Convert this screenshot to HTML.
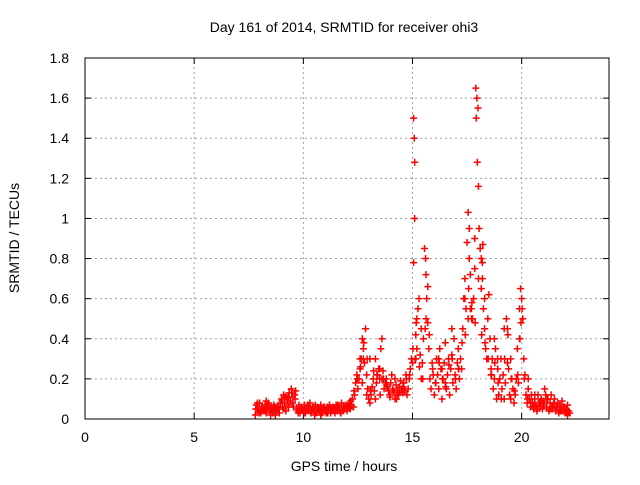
<!DOCTYPE html>
<html><head><meta charset="utf-8"><style>
body{margin:0;background:#fff;}
svg text{font-family:"Liberation Sans",sans-serif;font-size:14px;fill:#000;}
</style></head><body>
<svg id="chart" width="640" height="480">
<text x="344" y="32" text-anchor="middle">Day 161 of 2014, SRMTID for receiver ohi3</text>
<g id="grid"></g>
<g id="axes"></g>
<g id="points"></g>
<text x="344" y="471" text-anchor="middle">GPS time / hours</text>
<text transform="translate(19,238) rotate(-90)" text-anchor="middle">SRMTID / TECUs</text>
</svg>
<script>
const xTicks=[0,5,10,15,20];
const yTicks=[0,0.2,0.4,0.6,0.8,1,1.2,1.4,1.6,1.8];
const yTickLabels=["0","0.2","0.4","0.6","0.8","1","1.2","1.4","1.6","1.8"];
const times=[7.8,7.85,7.9,7.95,8.0,8.05,8.1,8.15,8.2,8.25,8.3,8.35,8.4,8.45,8.5,8.55,8.6,8.65,8.7,8.75,8.8,8.85,8.9,8.95,
9.0,9.05,9.1,9.15,9.2,9.25,9.3,9.35,9.4,9.45,9.5,9.55,9.6,9.65,9.7,9.75,9.8,9.85,9.9,9.95,
10.0,10.05,10.1,10.15,10.2,10.25,10.3,10.35,10.4,10.45,10.5,10.55,10.6,10.65,10.7,10.75,10.8,10.85,10.9,10.95,
11.0,11.05,11.1,11.15,11.2,11.25,11.3,11.35,11.4,11.45,11.5,11.55,11.6,11.65,11.7,11.75,11.8,11.85,11.9,11.95,
12.0,12.05,12.1,12.15,12.2,12.25,12.3,12.35,12.4,12.45,12.5,12.55,12.6,12.65,12.7,12.75,12.8,12.85,12.9,12.95,
13.0,13.05,13.1,13.15,13.2,13.25,13.3,13.35,13.4,13.45,13.5,13.55,13.6,13.65,13.7,13.75,13.8,13.85,13.9,13.95,
14.0,14.05,14.1,14.15,14.2,14.25,14.3,14.35,14.4,14.45,14.5,14.55,14.6,14.65,14.7,14.75,14.8,14.85,14.9,14.95,
15.0,15.05,15.05,15.08,15.1,15.1,15.12,15.15,15.2,15.25,15.3,15.35,15.4,15.45,15.5,15.55,15.6,15.62,15.65,15.7,15.75,15.8,15.85,15.9,15.95,
16.0,16.05,16.1,16.15,16.2,16.25,16.3,16.35,16.4,16.45,16.5,16.55,16.6,16.65,16.7,16.75,16.8,16.85,16.9,16.95,
17.0,17.05,17.1,17.15,17.2,17.25,17.3,17.35,17.4,17.45,17.5,17.55,17.6,17.65,17.7,17.75,17.8,17.85,17.9,17.92,17.95,17.97,18.0,18.02,18.05,
18.1,18.15,18.2,18.25,18.3,18.35,18.4,18.45,18.5,18.55,18.6,18.65,18.7,18.75,18.8,18.85,18.9,18.95,
19.0,19.05,19.1,19.15,19.2,19.25,19.3,19.35,19.4,19.45,19.5,19.55,19.6,19.65,19.7,19.75,19.8,19.85,19.9,19.95,
20.0,20.05,20.1,20.15,20.2,20.25,20.3,20.35,20.4,20.45,20.5,20.55,20.6,20.65,20.7,20.75,20.8,20.85,20.9,20.95,
21.0,21.05,21.1,21.15,21.2,21.25,21.3,21.35,21.4,21.45,21.5,21.55,21.6,21.65,21.7,21.75,21.8,21.85,21.9,21.95,22.0,22.05,22.1,22.15,22.2,
7.9,8.1,8.3,8.5,8.7,9.1,9.3,9.5,10.2,10.8,11.4,12.1,12.6,12.9,13.3,13.6,14.2,14.6,15.2,15.4,15.7,16.2,16.5,16.8,17.1,17.4,17.6,17.7,17.85,18.15,18.3,18.6,18.9,19.2,19.5,19.9,20.3,20.6,21.0,21.4,21.8,22.1,
12.7,12.75,13.05,13.5,15.15,15.58,16.35,17.55,17.65,18.2,18.22,18.75,19.35,19.92,20.02,
7.82,7.97,8.12,8.27,8.42,8.57,8.72,8.87,9.02,9.17,9.32,9.47,9.62,9.77,9.92,10.07,10.22,10.37,10.52,10.67,10.82,10.97,11.12,11.27,11.42,11.57,11.72,11.87,12.02,12.17,12.32,12.47,12.62,12.77,12.92,13.07,13.22,13.37,13.52,13.67,13.82,13.97,14.12,14.27,14.42,14.57,14.72,14.87,15.02,15.17,15.32,15.47,15.62,15.77,15.92,16.07,16.22,16.37,16.52,16.67,16.82,16.97,17.12,17.27,17.42,17.57,17.72,17.87,18.02,18.17,18.32,18.47,18.62,18.77,18.92,19.07,19.22,19.37,19.52,19.67,19.82,19.97,20.12,20.27,20.42,20.57,20.72,20.87,21.02,21.17,21.32,21.47,21.62,21.77,21.92,22.07];
const srmtid=[0.02,0.07,0.05,0.04,0.08,0.03,0.06,0.05,0.04,0.07,0.03,0.06,0.08,0.05,0.04,0.06,0.03,0.07,0.05,0.04,0.06,0.05,0.03,0.08,
0.1,0.06,0.12,0.08,0.04,0.1,0.07,0.13,0.09,0.15,0.11,0.06,0.12,0.14,0.05,0.04,0.07,0.03,0.06,0.05,
0.04,0.07,0.03,0.05,0.06,0.04,0.08,0.03,0.05,0.06,0.04,0.07,0.03,0.06,0.05,0.04,0.07,0.03,0.05,0.06,
0.04,0.03,0.06,0.05,0.07,0.03,0.04,0.06,0.05,0.03,0.07,0.04,0.06,0.05,0.03,0.08,0.04,0.06,0.05,0.07,
0.04,0.06,0.08,0.05,0.07,0.1,0.06,0.12,0.18,0.22,0.15,0.2,0.25,0.3,0.18,0.35,0.28,0.45,0.22,0.15,
0.1,0.08,0.12,0.16,0.2,0.14,0.1,0.18,0.22,0.25,0.2,0.35,0.4,0.24,0.15,0.18,0.2,0.16,0.14,0.12,
0.18,0.22,0.15,0.13,0.2,0.17,0.14,0.12,0.16,0.19,0.15,0.13,0.18,0.14,0.22,0.12,0.15,0.2,0.25,0.3,
0.28,1.5,0.78,1.4,1.28,1.0,0.3,0.42,0.35,0.55,0.6,0.32,0.45,0.28,0.4,0.85,0.8,0.72,0.6,0.48,0.35,0.2,0.15,0.28,0.22,
0.12,0.18,0.3,0.22,0.15,0.35,0.25,0.1,0.2,0.28,0.38,0.15,0.22,0.3,0.12,0.25,0.32,0.18,0.4,0.22,
0.15,0.28,0.35,0.2,0.3,0.25,0.45,0.6,0.7,0.55,0.88,1.03,0.8,0.72,0.55,0.5,0.6,0.9,1.65,1.5,1.6,1.28,1.55,1.16,0.95,
0.85,0.8,0.7,0.55,0.45,0.35,0.3,0.5,0.62,0.4,0.25,0.3,0.15,0.2,0.35,0.1,0.25,0.12,
0.2,0.3,0.15,0.22,0.1,0.18,0.5,0.45,0.25,0.12,0.3,0.2,0.15,0.08,0.12,0.2,0.35,0.18,0.4,0.65,
0.6,0.5,0.3,0.22,0.12,0.08,0.15,0.1,0.06,0.12,0.08,0.05,0.1,0.07,0.04,0.12,0.08,0.06,0.1,0.05,
0.08,0.15,0.12,0.06,0.1,0.04,0.08,0.12,0.05,0.07,0.1,0.04,0.06,0.08,0.03,0.07,0.05,0.09,0.04,0.06,0.03,0.05,0.07,0.04,0.03,
0.08,0.04,0.09,0.02,0.06,0.05,0.11,0.08,0.07,0.02,0.05,0.06,0.3,0.12,0.3,0.2,0.1,0.18,0.5,0.2,0.66,0.3,0.18,0.45,0.25,0.6,0.95,0.5,0.75,0.65,0.6,0.22,0.3,0.45,0.1,0.55,0.2,0.12,0.09,0.06,0.04,0.02,
0.4,0.3,0.3,0.25,0.3,0.45,0.25,0.5,0.55,0.78,0.87,0.4,0.28,0.4,0.55,
0.05,0.03,0.06,0.04,0.07,0.05,0.02,0.06,0.09,0.11,0.06,0.13,0.1,0.03,0.05,0.03,0.06,0.04,0.02,0.05,0.04,0.06,0.03,0.05,0.04,0.07,0.03,0.05,0.06,0.09,0.14,0.2,0.26,0.38,0.3,0.14,0.24,0.22,0.12,0.2,0.17,0.11,0.14,0.1,0.13,0.16,0.2,0.22,0.35,0.48,0.26,0.2,0.5,0.42,0.25,0.18,0.28,0.2,0.16,0.27,0.3,0.2,0.25,0.38,0.42,0.65,0.58,0.48,0.7,0.42,0.38,0.3,0.22,0.28,0.18,0.1,0.3,0.42,0.2,0.14,0.22,0.48,0.2,0.1,0.08,0.06,0.05,0.09,0.07,0.1,0.05,0.08,0.06,0.04,0.06,0.04];
const X0=85,X1=609,Y0=419,Y1=58,XMAX=24,YMAX=1.8;
function xs(v){return X0+(X1-X0)*v/XMAX;}
function ys(v){return Y0-(Y0-Y1)*v/YMAX;}
const NS="http://www.w3.org/2000/svg";
function mk(tag,attrs,parent){const e=document.createElementNS(NS,tag);for(const k in attrs)e.setAttribute(k,attrs[k]);parent.appendChild(e);return e;}
const grid=document.getElementById('grid'),axes=document.getElementById('axes'),pts=document.getElementById('points');
xTicks.forEach(t=>{
  if(t>0){const l=mk('line',{x1:xs(t),x2:xs(t),y1:Y0,y2:Y1,stroke:'#a0a0a0','stroke-dasharray':'2,3'},grid);
  
  }
  mk('line',{x1:xs(t),x2:xs(t),y1:Y0,y2:Y0-6,stroke:'#000'},axes);
  mk('line',{x1:xs(t),x2:xs(t),y1:Y1,y2:Y1+6,stroke:'#000'},axes);
  const tx=mk('text',{x:xs(t),y:Y0+23,'text-anchor':'middle'},axes);tx.textContent=t;
  
  
});
yTicks.forEach((t,i)=>{
  if(t>0&&t<YMAX){const l=mk('line',{x1:X0,x2:X1,y1:ys(t),y2:ys(t),stroke:'#a0a0a0','stroke-dasharray':'2,3'},grid);
  
  }
  mk('line',{x1:X0,x2:X0+6,y1:ys(t),y2:ys(t),stroke:'#000'},axes);
  mk('line',{x1:X1,x2:X1-6,y1:ys(t),y2:ys(t),stroke:'#000'},axes);
  const tx=mk('text',{x:X0-16,y:ys(t)+5,'text-anchor':'end'},axes);tx.textContent=yTickLabels[i];
  
  
});
mk('rect',{x:X0,y:Y1,width:X1-X0,height:Y0-Y1,fill:'none',stroke:'#000'},axes);
times.forEach((t,i)=>{
  const x=xs(t),y=ys(srmtid[i]);
  const p=mk('path',{d:`M${x-3.5},${y}H${x+3.5}M${x},${y-3.5}V${y+3.5}`,stroke:'#ff0000','stroke-width':1.5,fill:'none'},pts);
  
  
});
</script>
</body></html>
